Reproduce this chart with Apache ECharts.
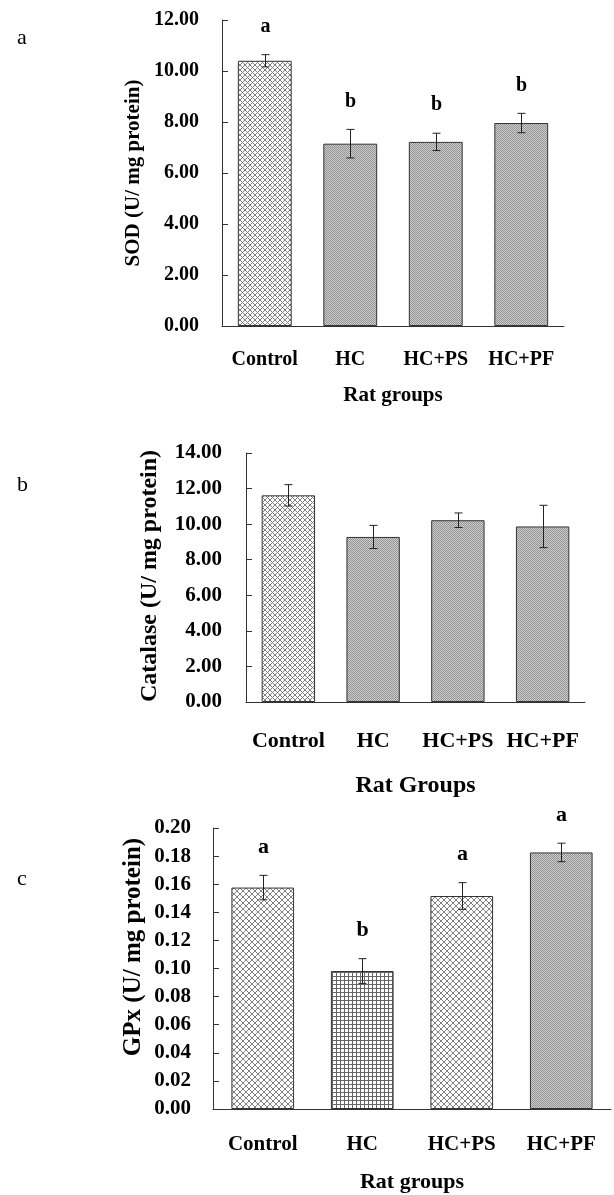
<!DOCTYPE html>
<html>
<head>
<meta charset="utf-8">
<script src="https://cdn.jsdelivr.net/npm/echarts@6/dist/echarts.min.js"></script>
<style>
  html, body { margin: 0; padding: 0; background: #fff; }
  #main { width: 614px; height: 1195px; }
</style>
</head>
<body>
<div id="main"></div>
<script>
// groups on the x axis (same for all three panels)
var categories = ['Control', 'HC', 'HC+PS', 'HC+PF'];

// a: SOD
var sodMean = [10.40, 7.15, 7.22, 7.96];
var sodErr = [0.24, 0.56, 0.34, 0.38];
var sodLetters = ['a', 'b', 'b', 'b'];
var sodMax = 12, sodStep = 2;

// b: Catalase
var catMean = [11.62, 9.28, 10.22, 9.87];
var catErr = [0.60, 0.65, 0.41, 1.19];
var catMax = 14, catStep = 2;

// c: GPx
var gpxMean = [0.1576, 0.0982, 0.1516, 0.1826];
var gpxErr = [0.0087, 0.0088, 0.0095, 0.0066];
var gpxLetters = ['a', 'b', 'a', 'a'];
var gpxMax = 0.20, gpxStep = 0.02;

var SERIF = '"Liberation Serif", "Times New Roman", serif';

// small canvas tiles used as bar fills
function tile(kind, p) {
  var c = document.createElement('canvas');
  c.width = p; c.height = p;
  var g = c.getContext('2d');
  if (kind == 'dots') {
    g.fillStyle = '#cdcdcd'; g.fillRect(0, 0, p, p);
    g.fillStyle = '#939393'; g.fillRect(0, 0, 1, 1); g.fillRect(1, 1, 1, 1);
  } else if (kind == 'grid') {
    g.fillStyle = '#fff'; g.fillRect(0, 0, p, p);
    g.fillStyle = '#666'; g.fillRect(0, 0, p, 1); g.fillRect(0, 0, 1, p);
  } else {
    g.fillStyle = '#fff'; g.fillRect(0, 0, p, p);
    g.strokeStyle = '#808080'; g.lineWidth = 1;
    g.beginPath();
    g.moveTo(0, 0); g.lineTo(p, p);
    g.moveTo(p, 0); g.lineTo(0, p);
    g.stroke();
  }
  return { image: c, repeat: 'repeat' };
}

var diaSmall = tile('diamond', 5), diaBig = tile('diamond', 6);
var dots = tile('dots', 2), grid4 = tile('grid', 4);

var panels = [
  { tag: 'a', tagY: 38, mean: sodMean, err: sodErr, letters: sodLetters, max: sodMax, step: sodStep,
    fills: [diaSmall, dots, dots, dots],
    grid: { left: 222, top: 20, width: 342, height: 306 },
    tickFont: 20, tickMargin: 23, catFont: 20, catMargin: 24, letterFont: 20,
    xName: 'Rat groups', xNameFont: 21, xNameGap: 59,
    yName: 'SOD (U/ mg protein)', yNameFont: 21, yNameX: 134, yNameY: 173 },
  { tag: 'b', tagY: 485, mean: catMean, err: catErr, letters: null, max: catMax, step: catStep,
    fills: [diaSmall, dots, dots, dots],
    grid: { left: 246, top: 453, width: 339, height: 249 },
    tickFont: 21, tickMargin: 24, catFont: 22, catMargin: 28, letterFont: 20,
    xName: 'Rat Groups', xNameFont: 24, xNameGap: 72,
    yName: 'Catalase (U/ mg protein)', yNameFont: 24, yNameX: 150, yNameY: 576 },
  { tag: 'c', tagY: 879, mean: gpxMean, err: gpxErr, letters: gpxLetters, max: gpxMax, step: gpxStep,
    fills: [diaBig, grid4, diaBig, dots],
    grid: { left: 213, top: 828, width: 398, height: 281 },
    tickFont: 21, tickMargin: 22, catFont: 21, catMargin: 25, letterFont: 22,
    xName: 'Rat groups', xNameFont: 22, xNameGap: 62,
    yName: 'GPx (U/ mg protein)', yNameFont: 25, yNameX: 134, yNameY: 947 }
];

function errBars(letters, fontSize) {
  return function (params, api) {
    var k = api.value(0), m = api.value(1), e = api.value(2);
    var hi = api.coord([k, m + e]);
    var lo = api.coord([k, m - e]);
    var x = Math.round(hi[0]) + 0.5, w = 4;
    var ls = { stroke: '#222', lineWidth: 1 };
    var kids = [
      { type: 'line', shape: { x1: x, y1: hi[1], x2: x, y2: lo[1] }, style: ls },
      { type: 'line', shape: { x1: x - w, y1: hi[1], x2: x + w, y2: hi[1] }, style: ls },
      { type: 'line', shape: { x1: x - w, y1: lo[1], x2: x + w, y2: lo[1] }, style: ls }
    ];
    if (letters) {
      kids.push({ type: 'text', style: {
        text: letters[params.dataIndex], x: x, y: hi[1] - 28,
        align: 'center', verticalAlign: 'middle',
        font: 'bold ' + fontSize + 'px ' + SERIF, fill: '#000' } });
    }
    return { type: 'group', children: kids };
  };
}

var option = { animation: false, grid: [], xAxis: [], yAxis: [], series: [], graphic: [] };
var axisCol = '#333';

panels.forEach(function (p, i) {
  option.grid.push(p.grid);
  option.xAxis.push({
    gridIndex: i, type: 'category', data: categories,
    axisLine: { lineStyle: { color: axisCol, width: 1 } },
    axisTick: { inside: true, length: 7, lineStyle: { color: axisCol } },
    axisLabel: { interval: 0, margin: p.catMargin, fontSize: p.catFont, fontWeight: 'bold', fontFamily: SERIF, color: '#000' },
    name: p.xName, nameLocation: 'middle', nameGap: p.xNameGap,
    nameTextStyle: { fontSize: p.xNameFont, fontWeight: 'bold', fontFamily: SERIF, color: '#000' }
  });
  option.yAxis.push({
    gridIndex: i, type: 'value', min: 0, max: p.max, interval: p.step,
    axisLine: { show: true, lineStyle: { color: axisCol, width: 1 } },
    axisTick: { show: true, inside: true, length: 6, lineStyle: { color: axisCol } },
    splitLine: { show: false },
    axisLabel: { margin: p.tickMargin, fontSize: p.tickFont, fontWeight: 'bold', fontFamily: SERIF, color: '#000',
      formatter: function (v) { return v.toFixed(2); } }
  });
  option.series.push({
    type: 'bar', xAxisIndex: i, yAxisIndex: i, barWidth: '63%', silent: true,
    itemStyle: { borderColor: '#333', borderWidth: 1 },
    data: p.mean.map(function (v, k) { return { value: v, itemStyle: { color: p.fills[k] } }; })
  });
  option.series.push({
    type: 'custom', xAxisIndex: i, yAxisIndex: i, clip: false, silent: true, z: 5,
    renderItem: errBars(p.letters, p.letterFont),
    data: p.mean.map(function (v, k) { return [k, v, p.err[k]]; })
  });
  // panel letter
  option.graphic.push({ type: 'text', x: 17, y: p.tagY,
    style: { text: p.tag, font: '22px ' + SERIF, fill: '#000', verticalAlign: 'middle' } });
  // y axis title
  option.graphic.push({ type: 'text', x: p.yNameX, y: p.yNameY, rotation: Math.PI / 2,
    style: { text: p.yName, font: 'bold ' + p.yNameFont + 'px ' + SERIF, fill: '#000',
      align: 'center', verticalAlign: 'middle' } });
});

var myChart = echarts.init(document.getElementById('main'));
myChart.setOption(option);
</script>
</body>
</html>
